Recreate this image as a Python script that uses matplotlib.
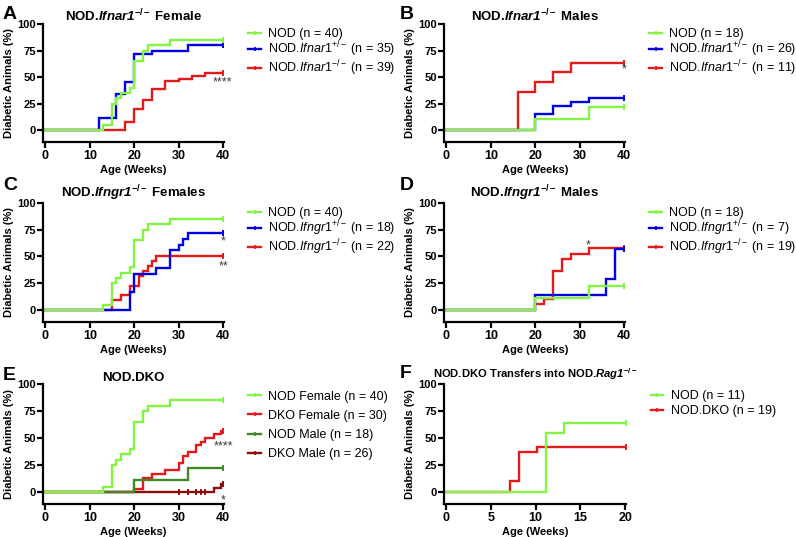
import matplotlib
matplotlib.use('Agg')
import numpy as np
import matplotlib.pyplot as plt
from matplotlib.lines import Line2D

plt.rcParams['font.family'] = ['Liberation Sans', 'DejaVu Sans']
plt.rcParams['mathtext.fontset'] = 'custom'
plt.rcParams['mathtext.rm'] = 'Liberation Sans'
plt.rcParams['mathtext.it'] = 'Liberation Sans:italic'
plt.rcParams['mathtext.bf'] = 'Liberation Sans:bold'
plt.rcParams['mathtext.bfit'] = 'Liberation Sans:italic:bold'

# ---------------- colours ----------------
GREEN = '#84F444'
BLUE = '#0000E6'
RED = '#E31A1C'
DGREEN = '#3F8A27'
DRED = '#8C0D0D'

# ---------------- data (weeks, % diabetic) ----------------
# Panel A
a_nod_t = [0, 13, 15, 16, 17, 19, 20, 22, 23, 28, 40]
a_nod_v = [0, 5, 25, 30, 35, 40, 65, 75, 80, 85, 85]
a_het_t = [0, 12, 16, 18, 20, 24, 32, 40]
a_het_v = [0, 11.4, 34.3, 45.7, 71.4, 74.3, 80.0, 80.0]
a_ko_t = [0, 18, 20, 22, 24, 27, 30, 33, 36, 40]
a_ko_v = [0, 7.7, 20.5, 28.2, 38.5, 46.2, 48.7, 51.3, 53.8, 53.8]
# Panel B
b_nod_t = [0, 20, 32, 40]
b_nod_v = [0, 11.1, 22.2, 22.2]
b_het_t = [0, 20, 24, 28, 32, 40]
b_het_v = [0, 15.4, 23.1, 26.9, 30.8, 30.8]
b_ko_t = [0, 16, 20, 24, 28, 40]
b_ko_v = [0, 36.4, 45.5, 54.5, 63.6, 63.6]
# Panel C
c_nod_t = a_nod_t
c_nod_v = a_nod_v
c_het_t = [0, 19, 20, 25, 28, 30, 31, 32, 40]
c_het_v = [0, 16.7, 33.3, 38.9, 55.6, 61.1, 66.7, 72.2, 72.2]
c_ko_t = [0, 15, 17, 19, 21, 22, 23, 24, 25, 40]
c_ko_v = [0, 9.1, 13.6, 22.7, 31.8, 36.4, 40.9, 45.5, 50.0, 50.0]
# Panel D
d_nod_t = [0, 20, 32, 40]
d_nod_v = [0, 11.1, 22.2, 22.2]
d_het_t = [0, 20, 36, 38, 40]
d_het_v = [0, 14.3, 28.6, 57.1, 57.1]
d_ko_t = [0, 20, 22, 24, 26, 28, 32, 40]
d_ko_v = [0, 5.3, 10.5, 36.8, 47.4, 52.6, 57.9, 57.9]
# Panel E
e_nodf_t = a_nod_t
e_nodf_v = a_nod_v
e_dkof_t = [0, 20, 22, 24, 27, 30, 31, 32, 34, 35, 36, 38, 39.5, 40]
e_dkof_v = [0, 3.3, 13.3, 16.7, 20.0, 26.7, 33.3, 36.7, 43.3, 46.7, 50.0, 53.3, 56.7, 56.7]
e_nodm_t = [0, 20, 32, 40]
e_nodm_v = [0, 11.1, 22.2, 22.2]
e_dkom_t = [0, 38, 39.5, 40]
e_dkom_v = [0, 3.8, 7.7, 7.7]
e_dkom_cens = [30, 32, 34, 35, 36, 40]
# Panel F
f_nod_t = [0, 11.14, 13.14, 20.14]
f_nod_v = [0, 54.5, 63.6, 63.6]
f_dko_t = [0, 7.14, 8.14, 10.14, 20.14]
f_dko_v = [0, 10.5, 36.8, 42.1, 42.1]

yticks = [0, 25, 50, 75, 100]

W, H = 796, 537
fig = plt.figure(figsize=(W / 100, H / 100), dpi=100)


def make_ax(left_px, top_px, right_px, bottom_px):
    return fig.add_axes([left_px / W, 1 - bottom_px / H,
                         (right_px - left_px) / W, (bottom_px - top_px) / H])


def style(ax, xmax, xticks):
    for s in ['top', 'right']:
        ax.spines[s].set_visible(False)
    for s in ['left', 'bottom']:
        ax.spines[s].set_linewidth(1.6)
    ax.set_ylim(-11, 100)
    ax.set_yticks(yticks)
    ax.set_xticks(xticks)
    ax.set_xlim(-0.45 * xmax / 40, xmax + 0.2 * xmax / 40)
    ax.tick_params(axis='both', width=1.6, length=4, direction='out')
    ax.tick_params(axis='y', labelsize=8, pad=1.5)
    ax.tick_params(axis='x', labelsize=9, pad=2)
    for lab in ax.get_xticklabels() + ax.get_yticklabels():
        lab.set_fontweight('bold')
    ax.set_xlabel('Age (Weeks)', fontsize=8, fontweight='bold', labelpad=2)
    ax.set_ylabel('Diabetic Animals (%)', fontsize=8, fontweight='bold', labelpad=2)


def curve(ax, t, v, color, cens=None):
    ax.step(t, v, where='post', color=color, lw=1.7, solid_joinstyle='miter')
    if cens is None:
        cens = [t[-1]]
    t_arr = np.array(t)
    v_arr = np.array(v)
    idx = np.searchsorted(t_arr, cens, side='right') - 1
    ax.plot(cens, v_arr[idx], ls='none', marker='|', ms=4, mew=1.4, color=color)


def legend(ax, entries, y=0.965, spacing=-0.06):
    handles = [Line2D([], [], color=c, lw=1.7, marker='|', ms=3.5, mew=1.2) for c, _ in entries]
    labels = [l for _, l in entries]
    ax.legend(handles, labels, loc='upper left', bbox_to_anchor=(1.135, y),
              frameon=False, fontsize=9, handlelength=1.0, handletextpad=0.6,
              labelspacing=spacing, borderaxespad=0, borderpad=0, numpoints=1)


def stars(ax, x, y, s):
    ax.text(x, y, s, ha='center', va='center', fontsize=9, color='#3a3a3a')


title_kw = dict(fontsize=9.5, fontweight='bold', pad=2)

# ---- A ----
axA = make_ax(43.3, 24, 224, 142)
curve(axA, a_ko_t, a_ko_v, RED)
curve(axA, a_het_t, a_het_v, BLUE)
curve(axA, a_nod_t, a_nod_v, GREEN)
style(axA, 40, [0, 10, 20, 30, 40])
axA.set_title(r'NOD.$\mathbfit{Ifnar1}^{\mathbf{-/-}}$ Female', **title_kw)
legend(axA, [(GREEN, 'NOD (n = 40)'),
             (BLUE, r'NOD.$\mathit{Ifnar1}^{+/-}$ (n = 35)'),
             (RED, r'NOD.$\mathit{Ifnar1}^{-/-}$ (n = 39)')])
stars(axA, 39.8, 45, '****')

# ---- B ----
axB = make_ax(444.5, 24, 625, 142)
curve(axB, b_ko_t, b_ko_v, RED)
curve(axB, b_het_t, b_het_v, BLUE)
curve(axB, b_nod_t, b_nod_v, GREEN)
style(axB, 40, [0, 10, 20, 30, 40])
axB.set_title(r'NOD.$\mathbfit{Ifnar1}^{\mathbf{-/-}}$ Males', **title_kw)
legend(axB, [(GREEN, 'NOD (n = 18)'),
             (BLUE, r'NOD.$\mathit{Ifnar1}^{+/-}$ (n = 26)'),
             (RED, r'NOD.$\mathit{Ifnar1}^{-/-}$ (n = 11)')])
stars(axB, 40, 57, '*')

# ---- C ----
axC = make_ax(43.3, 203, 224, 321.7)
curve(axC, c_ko_t, c_ko_v, RED)
curve(axC, c_het_t, c_het_v, BLUE)
curve(axC, c_nod_t, c_nod_v, GREEN)
style(axC, 40, [0, 10, 20, 30, 40])
axC.set_title(r'NOD.$\mathbfit{Ifngr1}^{\mathbf{-/-}}$ Females', **title_kw)
legend(axC, [(GREEN, 'NOD (n = 40)'),
             (BLUE, r'NOD.$\mathit{Ifngr1}^{+/-}$ (n = 18)'),
             (RED, r'NOD.$\mathit{Ifngr1}^{-/-}$ (n = 22)')])
stars(axC, 40, 64, '*')
stars(axC, 40, 41, '**')

# ---- D ----
axD = make_ax(444.5, 203, 625, 321.7)
curve(axD, d_ko_t, d_ko_v, RED)
curve(axD, d_het_t, d_het_v, BLUE)
curve(axD, d_nod_t, d_nod_v, GREEN)
style(axD, 40, [0, 10, 20, 30, 40])
axD.set_title(r'NOD.$\mathbfit{Ifngr1}^{\mathbf{-/-}}$ Males', **title_kw)
legend(axD, [(GREEN, 'NOD (n = 18)'),
             (BLUE, r'NOD.$\mathit{Ifngr1}^{+/-}$ (n = 7)'),
             (RED, r'NOD.$\mathit{Ifngr1}^{-/-}$ (n = 19)')])
stars(axD, 32, 60, '*')

# ---- E ----
axE = make_ax(43.3, 384, 224, 504)
curve(axE, e_dkof_t, e_dkof_v, RED)
curve(axE, e_dkom_t, e_dkom_v, DRED, cens=e_dkom_cens)
curve(axE, e_nodm_t, e_nodm_v, DGREEN)
curve(axE, e_nodf_t, e_nodf_v, GREEN)
style(axE, 40, [0, 10, 20, 30, 40])
axE.set_title('NOD.DKO', **title_kw)
legend(axE, [(GREEN, 'NOD Female (n = 40)'),
             (RED, 'DKO Female (n = 30)'),
             (DGREEN, 'NOD Male (n = 18)'),
             (DRED, 'DKO Male (n = 26)')], y=0.945, spacing=0.58)
stars(axE, 40, 42, '****')
stars(axE, 40, -8, '*')

# ---- F ----
axF = make_ax(444.3, 384, 626, 504)
curve(axF, f_dko_t, f_dko_v, RED)
curve(axF, f_nod_t, f_nod_v, GREEN)
style(axF, 20, [0, 5, 10, 15, 20])
axF.set_title(r'NOD.DKO Transfers into NOD.$\mathbfit{Rag1}^{\mathbf{-/-}}$',
              fontsize=8.1, fontweight='bold', pad=4)
legend(axF, [(GREEN, 'NOD (n = 11)'),
             (RED, 'NOD.DKO (n = 19)')], y=0.95, spacing=0.27)

# panel letters
for letter, x, y in [('A', 3, 19), ('B', 400, 19), ('C', 3, 190), ('D', 400, 190),
                     ('E', 3, 380), ('F', 400, 378)]:
    fig.text(x / W, 1 - y / H, letter, fontsize=14, fontweight='bold', va='baseline')

fig.savefig('out.png', dpi=100)
